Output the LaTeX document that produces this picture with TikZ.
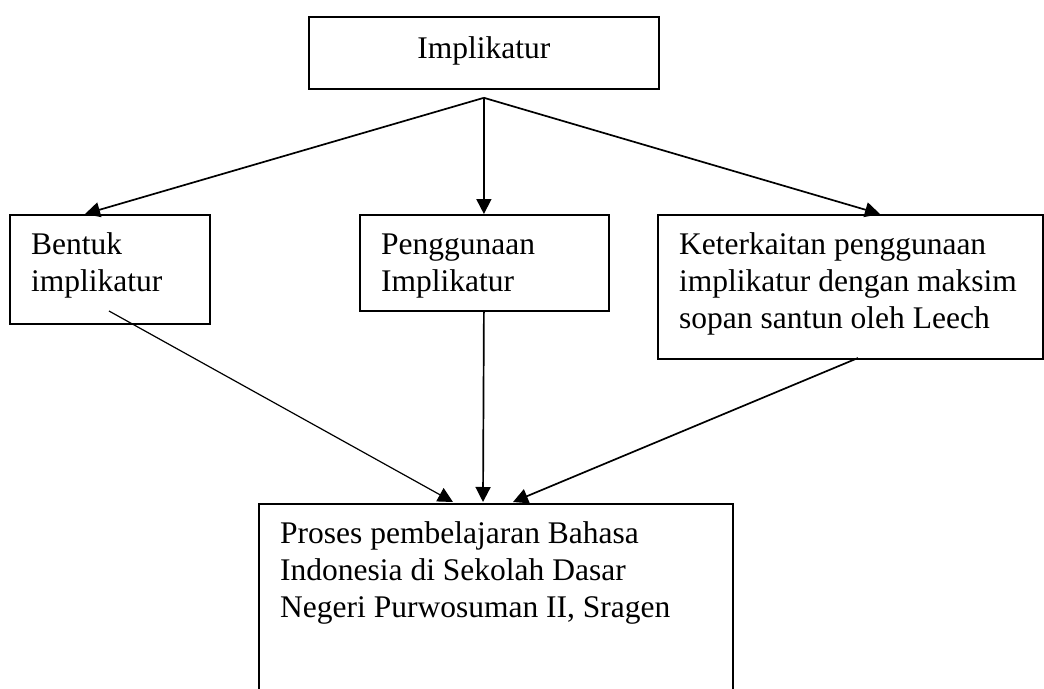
\documentclass[tikz,border=0pt]{standalone}
\usepackage{fontspec}
\setmainfont{Liberation Serif}
\usetikzlibrary{arrows.meta,calc}
\begin{document}
\begin{tikzpicture}[x=1pt,y=-1pt,
  box/.style={draw,line width=1.8pt,rectangle,inner sep=0pt,anchor=north west},
  lbl/.style={inner sep=0pt,anchor=base west,align=left,font=\fontsize{31.5}{37}\selectfont},
  conn/.style={line width=1.7pt,-{Triangle[length=15pt,width=15pt]}},
  thinconn/.style={line width=1.2pt,-{Triangle[length=15pt,width=15pt]}}]
\useasboundingbox (0,0) rectangle (1044,688);
\begin{scope}
\clip (0,0) rectangle (1044,688);
\node[box,minimum width=350pt,minimum height=72pt] (top) at (308,16) {};
\node[box,minimum width=200pt,minimum height=109pt] (bentuk) at (9,214) {};
\node[box,minimum width=249pt,minimum height=96pt] (peng) at (359,214) {};
\node[box,minimum width=385pt,minimum height=144pt] (ket) at (657,214) {};
\node[box,minimum width=474pt,minimum height=250pt] (proses) at (258,503) {};
\end{scope}
\node[lbl,anchor=base] (ttop) at ($(top.north)+(0,42)$) {Implikatur};
\node[lbl] (tbentuk) at ($(bentuk.north west)+(22,77)$) {Bentuk\\implikatur};
\node[lbl] (tpeng) at ($(peng.north west)+(22,77)$) {Penggunaan\\Implikatur};
\node[lbl] (tket) at ($(ket.north west)+(22,114)$) {Keterkaitan penggunaan\\implikatur dengan maksim\\sopan santun oleh Leech};
\node[lbl] (tproses) at ($(proses.north west)+(22,114)$) {Proses pembelajaran Bahasa\\Indonesia di Sekolah Dasar\\Negeri Purwosuman II, Sragen};
\coordinate (apex) at ($(top.south)+(0,8)$);
\draw[conn] (apex) -- ($(bentuk.north west)+(76,0)$);
\draw[conn] (apex) -- (apex |- peng.north);
\draw[conn] (apex) -- ($(ket.north west)+(223,0)$);
\draw[thinconn] ($(bentuk.north west)+(100,97)$) -- ($(proses.north west)+(195,-1)$);
\draw[conn] (peng.south -| apex) -- ($(proses.north west)+(225,-1)$);
\draw[conn] ($(ket.north west)+(201,144)$) -- ($(proses.north west)+(255,-1)$);
\end{tikzpicture}
\end{document}
